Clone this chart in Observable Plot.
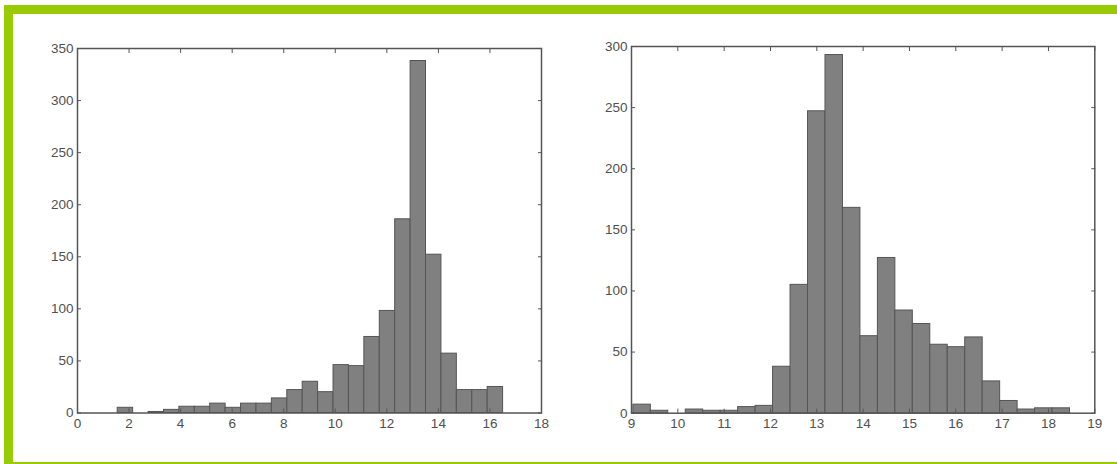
<!DOCTYPE html>
<html><head><meta charset="utf-8">
<script src="https://cdn.jsdelivr.net/npm/d3@7"></script>
<script src="https://cdn.jsdelivr.net/npm/@observablehq/plot@0.6"></script>
<style>
html,body{margin:0;padding:0;background:#fff;}
#wrap{position:relative;width:1117px;height:464px;overflow:hidden;background:#fff;}
.g{position:absolute;background:#99cc00;}
#p1,#p2{position:absolute;top:0;}
#p1{left:0px}
#p2{left:580px}
</style></head><body>
<div id="wrap">
<div class="g" style="left:4px;top:5px;width:1113px;height:9px"></div>
<div class="g" style="left:4px;top:5px;width:9px;height:459px"></div>
<div class="g" style="left:4px;top:462px;width:1113px;height:2px"></div>
<div id="p1"></div><div id="p2"></div>
</div>
<script>
// Left histogram
const leftCounts = [5,0,1,3,6,6,9,5,9,9,14,22,30,20,46,45,73,98,186,338,152,57,22,22,25];
const leftBinStart = 1.56;
const leftBinWidth = 0.598;
const leftXTicks = [0,2,4,6,8,10,12,14,16,18];
const leftYTicks = [0,50,100,150,200,250,300,350];

// Right histogram
const rightCounts = [7,2,0,3,2,2,5,6,38,105,247,293,168,63,127,84,73,56,54,62,26,10,3,4,4];
const rightBinStart = 9.04;
const rightBinWidth = 0.377;
const rightXTicks = [9,10,11,12,13,14,15,16,17,18,19];
const rightYTicks = [0,50,100,150,200,250,300];

const toBins = (counts, start, w) => counts.map((c, i) => ({x1: start + i * w, x2: start + (i + 1) * w, count: c}));

const font = '"Liberation Sans", Arial, sans-serif';
const axisColor = "#555";

function histo({bins, xDomain, yDomain, xTicks, yTicks, width, height, ml, mr, mt, mb}) {
  return Plot.plot({
    width, height,
    marginLeft: ml, marginRight: mr, marginTop: mt, marginBottom: mb,
    x: {domain: xDomain},
    y: {domain: yDomain},
    style: {fontFamily: font, fontSize: "13.5px", color: "#505050", background: "transparent"},
    marks: [
      Plot.rectY(bins, {x1: "x1", x2: "x2", y: "count", fill: "#808080", stroke: "#555", strokeWidth: 1}),
      Plot.axisX(xTicks, {anchor: "bottom", tickSize: -4, tickPadding: 9.5, stroke: axisColor, label: null}),
      Plot.axisX(xTicks, {anchor: "top", tickSize: -4, tickFormat: () => "", stroke: axisColor, label: null}),
      Plot.axisY(yTicks, {anchor: "left", tickSize: -4, tickPadding: 8, stroke: axisColor, label: null}),
      Plot.axisY(yTicks, {anchor: "right", tickSize: -4, tickFormat: () => "", stroke: axisColor, label: null}),
      Plot.frame({stroke: axisColor, strokeWidth: 1.5})
    ]
  });
}

document.getElementById("p1").appendChild(histo({
  bins: toBins(leftCounts, leftBinStart, leftBinWidth),
  xDomain: [0, 18], yDomain: [0, 350], xTicks: leftXTicks, yTicks: leftYTicks,
  width: 580, height: 464, ml: 77, mr: 39, mt: 48, mb: 51.5
}));
document.getElementById("p2").appendChild(histo({
  bins: toBins(rightCounts, rightBinStart, rightBinWidth),
  xDomain: [9, 19], yDomain: [0, 300], xTicks: rightXTicks, yTicks: rightYTicks,
  width: 537, height: 464, ml: 51, mr: 22.7, mt: 46, mb: 51.3
}));
</script>
</body></html>
